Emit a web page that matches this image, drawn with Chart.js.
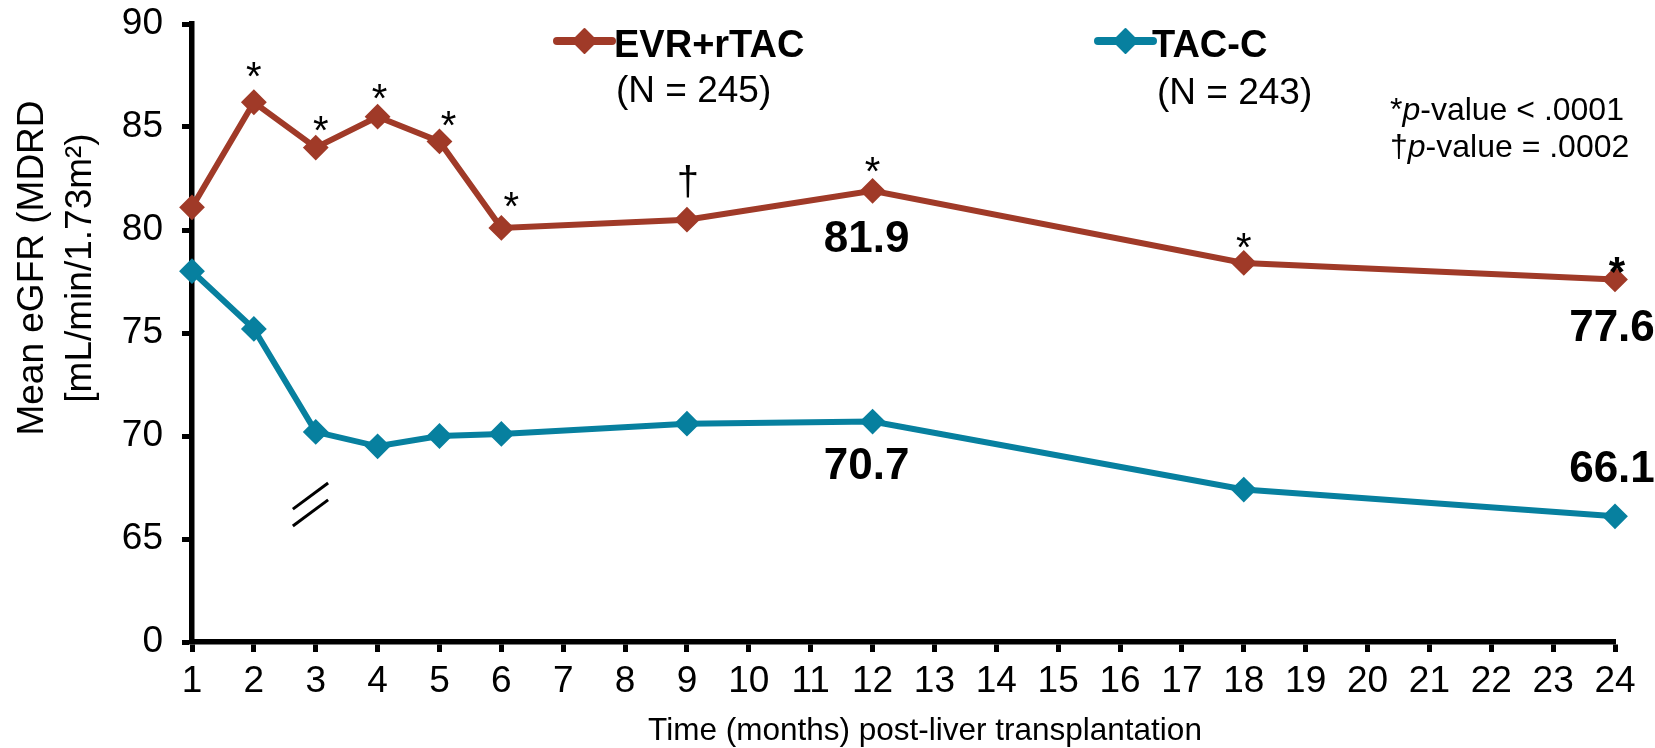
<!DOCTYPE html>
<html>
<head>
<meta charset="utf-8">
<script src="https://cdn.jsdelivr.net/npm/chart.js@4"></script>
<style>
  html, body { margin: 0; padding: 0; background: #fff; }
  #wrap { width: 1655px; height: 748px; position: relative; }
</style>
</head>
<body>
<div id="wrap"><canvas id="c"></canvas></div>
<script>
// Mean eGFR over time after liver transplantation, by treatment arm
const months = [1, 2, 3, 4, 5, 6, 9, 12, 18, 24];
const evrRtac = [81.1, 86.2, 84.0, 85.5, 84.3, 80.1, 80.5, 81.9, 78.4, 77.6];
const tacC = [78.0, 75.2, 70.2, 69.5, 70.0, 70.1, 70.6, 70.7, 67.4, 66.1];
const evrSignif = ['', '*', '*', '*', '*', '*', '†', '*', '*', '*'];
const seriesNames = ['EVR+rTAC', 'TAC-C'];
const seriesN = ['(N = 245)', '(N = 243)'];
const yTicks = [60, 65, 70, 75, 80, 85, 90];
const yTickText = ['0', '65', '70', '75', '80', '85', '90'];
const xTicks = [1, 2, 3, 4, 5, 6, 7, 8, 9, 10, 11, 12, 13, 14, 15, 16, 17, 18, 19, 20, 21, 22, 23, 24];

const RED = '#A03A28';
const TEAL = '#07809F';
const FONT = "'Liberation Sans', Arial, Helvetica, sans-serif";

Chart.defaults.font.family = FONT;
Chart.defaults.color = '#000';

function pts(vals) { return months.map((m, i) => ({ x: m, y: vals[i] })); }

// significance marks drawn above EVR points (offsets in px: dx, dy to glyph centre)
const signifOffsets = [[0,0],[0,-33],[5,-25],[2,-26],[9,-23],[10,-29],[1,-36],[0,-27],[0,-23],[2,-15]];
// value callouts: dataset, point index, offsets (px)
const callouts = [
  { ds: 0, i: 7, dx: -6, dy: 49 },
  { ds: 1, i: 7, dx: -6, dy: 45 },
  { ds: 0, i: 9, dx: -3, dy: 49 },
  { ds: 1, i: 9, dx: -3, dy: -46 }
];

function diamond(ctx, x, y, r, color) {
  ctx.save();
  ctx.fillStyle = color;
  ctx.strokeStyle = color;
  ctx.lineWidth = 2;
  ctx.lineJoin = 'round';
  ctx.beginPath();
  ctx.moveTo(x - r, y); ctx.lineTo(x, y - r); ctx.lineTo(x + r, y); ctx.lineTo(x, y + r);
  ctx.closePath();
  ctx.fill(); ctx.stroke();
  ctx.restore();
}

const decorations = {
  id: 'decorations',
  afterDraw(chart) {
    const ctx = chart.ctx;
    const xs = chart.scales.x, ys = chart.scales.y;
    ctx.save();

    // axis break marks between 0 and 65
    ctx.strokeStyle = '#000';
    ctx.lineWidth = 3;
    [[2.63, 66.45, 3.2, 67.72], [2.63, 65.63, 3.2, 66.9]].forEach(s => {
      ctx.beginPath();
      ctx.moveTo(xs.getPixelForValue(s[0]), ys.getPixelForValue(s[1]));
      ctx.lineTo(xs.getPixelForValue(s[2]), ys.getPixelForValue(s[3]));
      ctx.stroke();
    });

    // significance marks
    ctx.fillStyle = '#000';
    ctx.textAlign = 'center';
    ctx.textBaseline = 'middle';
    const meta0 = chart.getDatasetMeta(0);
    evrSignif.forEach((s, i) => {
      if (!s) return;
      const p = meta0.data[i];
      const off = signifOffsets[i];
      ctx.font = (i === evrSignif.length - 1 ? 'bold 42px ' : '40px ') + FONT;
      // asterisk glyph sits high in its em box; shift so the glyph centre lands on target
      const shift = s === '*' ? 10 : 0;
      ctx.fillText(s, p.x + off[0], p.y + off[1] + shift);
    });

    // value callouts
    ctx.font = 'bold 44px ' + FONT;
    callouts.forEach(c => {
      const p = chart.getDatasetMeta(c.ds).data[c.i];
      const v = chart.data.datasets[c.ds].data[c.i].y;
      ctx.fillText(v.toFixed(1), p.x + c.dx, p.y + c.dy);
    });

    // legend
    const legendPos = [{ x0: 557, x1: 612, y: 41, tx: 614, nx: 616, ny: 92 },
                       { x0: 1098, x1: 1153, y: 41, tx: 1152, nx: 1157, ny: 94 }];
    chart.data.datasets.forEach((d, k) => {
      const L = legendPos[k];
      ctx.strokeStyle = d.borderColor;
      ctx.lineWidth = 8;
      ctx.lineCap = 'round';
      ctx.beginPath(); ctx.moveTo(L.x0, L.y); ctx.lineTo(L.x1, L.y); ctx.stroke();
      diamond(ctx, (L.x0 + L.x1) / 2, L.y, 12, d.borderColor);
      ctx.fillStyle = '#000';
      ctx.textAlign = 'left';
      ctx.font = 'bold 38px ' + FONT;
      ctx.fillText(seriesNames[k], L.tx, L.y + 6);
      ctx.font = '37px ' + FONT;
      ctx.fillText(seriesN[k], L.nx, L.ny);
    });

    // p-value note
    function mixed(parts, x, y) {
      parts.forEach(([t, it]) => {
        ctx.font = (it ? 'italic ' : '') + '32px ' + FONT;
        ctx.fillText(t, x, y);
        x += ctx.measureText(t).width;
      });
    }
    ctx.textAlign = 'left';
    mixed([['*', false], ['p', true], ['-value < .0001', false]], 1390, 111);
    mixed([['†', false], ['p', true], ['-value = .0002', false]], 1390, 148);

    // axis titles
    ctx.textAlign = 'center';
    ctx.font = '31.5px ' + FONT;
    ctx.fillText('Time (months) post-liver transplantation', 925, 731);

    ctx.save();
    ctx.translate(0, 268);
    ctx.rotate(-Math.PI / 2);
    ctx.font = '37px ' + FONT;
    ctx.textBaseline = 'alphabetic';
    ctx.fillText('Mean eGFR (MDRD', 0, 43);
    ctx.fillText('[mL/min/1.73m\u00B2)', 0, 91);
    ctx.restore();

    ctx.restore();
  }
};

new Chart(document.getElementById('c'), {
  type: 'line',
  data: {
    datasets: [
      { label: seriesNames[0], data: pts(evrRtac), borderColor: RED, backgroundColor: RED },
      { label: seriesNames[1], data: pts(tacC), borderColor: TEAL, backgroundColor: TEAL }
    ]
  },
  options: {
    responsive: true,
    maintainAspectRatio: false,
    animation: false,
    layout: { autoPadding: false, padding: { top: 24, right: 40, left: 0, bottom: 0 } },
    elements: {
      line: { borderWidth: 6, tension: 0 },
      point: { pointStyle: 'rectRot', radius: 11.5, borderWidth: 2, hoverRadius: 11.5 }
    },
    clip: false,
    plugins: { legend: { display: false }, tooltip: { enabled: false } },
    scales: {
      x: {
        type: 'linear', min: 1, max: 24,
        afterBuildTicks: s => { s.ticks = xTicks.map(v => ({ value: v })); },
        afterFit: s => { s.height = 106; s.paddingLeft = 0; s.paddingRight = 0; },
        ticks: { font: { size: 37 }, color: '#000', padding: 8, maxRotation: 0, autoSkip: false },
        grid: { display: true, drawOnChartArea: false, drawTicks: true, tickLength: 10, tickWidth: 5, tickColor: '#000' },
        border: { display: true, width: 5.5, color: '#000' }
      },
      y: {
        type: 'linear', min: 60, max: 90,
        afterBuildTicks: s => { s.ticks = yTicks.map(v => ({ value: v })); },
        afterFit: s => { s.width = 192; s.paddingTop = 0; s.paddingBottom = 0; },
        ticks: {
          font: { size: 37 }, color: '#000', padding: 19,
          callback: v => yTickText[yTicks.indexOf(v)]
        },
        grid: { display: true, drawOnChartArea: false, drawTicks: true, tickLength: 10, tickWidth: 5, tickColor: '#000' },
        border: { display: true, width: 5.5, color: '#000' }
      }
    }
  },
  plugins: [decorations]
});
</script>
</body>
</html>
